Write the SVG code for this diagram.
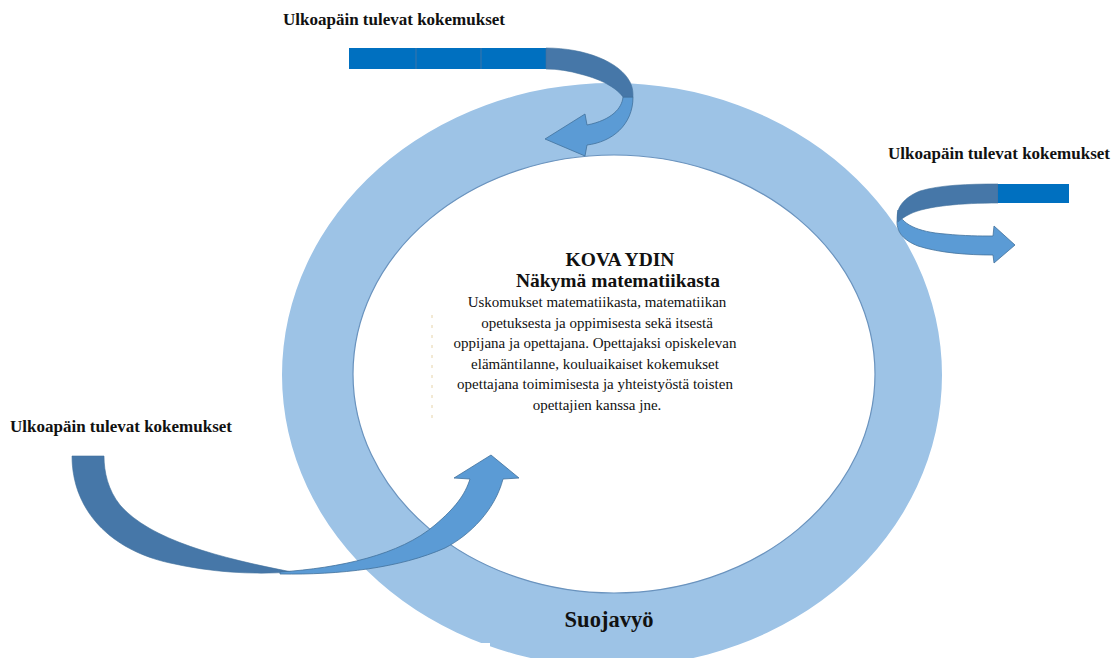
<svg xmlns="http://www.w3.org/2000/svg" width="1119" height="658" viewBox="0 0 1119 658">
  <style>
    .lbl { font-family: "Liberation Serif", "Times New Roman", serif; font-weight: bold; font-size: 17px; fill: #111; }
    .title { font-family: "Liberation Serif", "Times New Roman", serif; font-weight: bold; font-size: 19.5px; fill: #111; text-anchor: middle; }
    .body { font-family: "Liberation Serif", "Times New Roman", serif; font-size: 15px; fill: #111; text-anchor: middle; }
    .dark { fill: #4677A8; stroke: #41719C; stroke-width: 0.6; }
    .light { fill: #5B9BD5; stroke: #41719C; stroke-width: 0.8; }
    .bar { fill: #0070C0; }
  </style>
  <rect width="1119" height="658" fill="#ffffff"/>

  <g id="ring">
    <path fill="#9DC3E6" fill-rule="evenodd" d="M282,375 a330,292 0 1,0 660,0 a330,292 0 1,0 -660,0 Z M353,374 a261,219 0 1,0 522,0 a261,219 0 1,0 -522,0 Z"/>
    <ellipse cx="614" cy="374" rx="261" ry="219" fill="none" stroke="#6A93BE" stroke-width="1.2"/>
    <rect x="0" y="643" width="490" height="15" fill="#ffffff"/>
  </g>

  <g id="core-box">
    <line x1="432" y1="315" x2="432" y2="418" stroke="#E6D3A8" stroke-width="1" stroke-dasharray="3 7"/>
  </g>

  <g id="connectors">
    <g id="arrow-top">
      <rect class="bar" x="349" y="48" width="197" height="21"/>
      <line x1="416" y1="48" x2="416" y2="69" stroke="#3D74A8" stroke-width="1"/>
      <line x1="481" y1="48" x2="481" y2="69" stroke="#3D74A8" stroke-width="1"/>
      <path class="light" d="M623,97 C622,108 612,120 587,125 L585,114 L545,139 L585,156 L587,145 C612,142 633,125 633,97 Z"/>
      <path class="dark" d="M546,48 C585,48 620,62 630,82 C633,88 633,93 633,97 L623,97 C618,90 605,80 580,74 C570,71 558,69 546,69 Z"/>
    </g>
    <g id="arrow-right">
      <path class="light" d="M898,210 C900,224 918,232 945,234 C965,236 980,236 993,236 L994,226 L1015,245 L994,263 L993,255 C968,255 940,253 918,246 C903,240 897,232 897,222 Z"/>
      <path class="dark" d="M998,184 L998,203 C962,203 926,206 910,214 C904,217 900,220 898,222 C895,212 900,199 920,191 C940,185 968,184 998,184 Z"/>
      <rect class="bar" x="998" y="184" width="71" height="19"/>
    </g>
    <g id="arrow-left">
      <path class="dark" d="M72,456 L104,456 C104,472 108,490 120,505 C150,540 220,558 292,572 C250,575 210,572 170,563 C110,550 72,510 72,456 Z"/>
      <path class="light" d="M280,572 C340,568 400,555 435,525 C455,508 465,495 470,479 L454,478 L491,455 L519,478 L503,479 C495,510 470,535 445,548 C400,568 340,575 280,574 Z"/>
    </g>
  </g>

  <g id="labels">
    <text class="lbl" x="283" y="25">Ulkoapäin tulevat kokemukset</text>
    <text class="lbl" x="888" y="159">Ulkoapäin tulevat kokemukset</text>
    <text class="lbl" x="10" y="432">Ulkoapäin tulevat kokemukset</text>
  </g>

  <g id="core">
    <text class="title" x="620" y="266">KOVA YDIN</text>
    <text class="title" x="618" y="287">Näkymä matematiikasta</text>
    <text class="body" x="597" y="307">Uskomukset matematiikasta, matematiikan</text>
    <text class="body" x="597" y="327.5">opetuksesta ja oppimisesta sekä itsestä</text>
    <text class="body" x="595" y="348">oppijana ja opettajana. Opettajaksi opiskelevan</text>
    <text class="body" x="595" y="368.5">elämäntilanne, kouluaikaiset kokemukset</text>
    <text class="body" x="595" y="389">opettajana toimimisesta ja yhteistyöstä toisten</text>
    <text class="body" x="597" y="409.5">opettajien kanssa jne.</text>
  </g>

  <g id="protective-belt">
    <text x="609" y="627" font-family="Liberation Serif, Times New Roman, serif" font-weight="bold" font-size="22.5" fill="#111" text-anchor="middle">Suojavyö</text>
  </g>
</svg>
